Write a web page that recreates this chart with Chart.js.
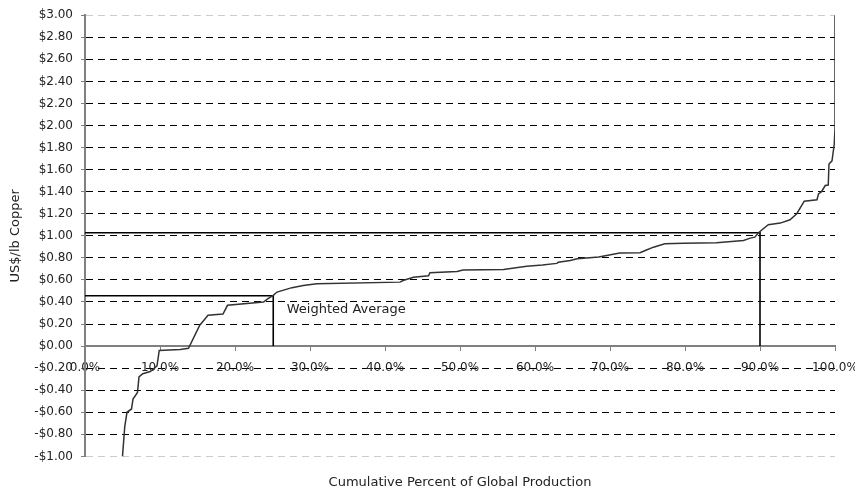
<!DOCTYPE html>
<html>
<head>
<meta charset="utf-8">
<script src="https://cdn.jsdelivr.net/npm/chart.js@4/dist/chart.umd.min.js"></script>
<style>
  html, body { margin: 0; padding: 0; background: #fff; }
  #wrap { width: 855px; height: 493px; }
</style>
</head>
<body>
<div id="wrap"><canvas id="costCurve"></canvas></div>
<script>
// cumulative share of global production (%) and cash cost (US$/lb)
const cumPct = [5.0, 5.3, 5.6, 6.2, 6.4, 7.0, 7.2, 7.7, 8.7, 9.6, 9.9, 12.7, 13.8, 15.3, 15.8, 16.4, 18.4, 19.0,
  23.8, 24.4, 25.1, 25.6, 27.6, 29.1, 30.9, 42.0, 42.4, 43.8, 45.8, 46.0, 49.6, 50.4, 55.8, 58.9, 61.0, 62.9,
  63.1, 64.7, 65.6, 68.5, 71.3, 74.0, 74.7, 75.8, 77.3, 79.8, 84.2, 87.8, 88.7, 89.3, 89.8, 91.1, 92.7, 94.0,
  94.9, 95.9, 97.6, 97.8, 98.2, 98.7, 99.1, 99.2, 99.6, 99.9, 100, 100];
const cashCost = [-1.0, -0.73, -0.60, -0.57, -0.48, -0.42, -0.28, -0.25, -0.23, -0.18, -0.04, -0.03, -0.02, 0.19,
  0.23, 0.28, 0.29, 0.37, 0.40, 0.43, 0.46, 0.49, 0.53, 0.55, 0.565, 0.58, 0.595, 0.625, 0.638, 0.665, 0.677,
  0.69, 0.695, 0.725, 0.735, 0.75, 0.76, 0.777, 0.792, 0.807, 0.845, 0.846, 0.867, 0.897, 0.928, 0.933, 0.937,
  0.958, 0.979, 0.988, 1.028, 1.10, 1.115, 1.145, 1.20, 1.314, 1.327, 1.38, 1.40, 1.456, 1.46, 1.65, 1.68,
  1.83, 1.98, 3.0];

// weighted average marker and 90th percentile marker
const avgPct = 25.1, avgCost = 0.457;
const p90Pct = 90, p90Cost = 1.028;

const yMin = -1, yMax = 3, yStep = 0.2;
const xMin = 0, xMax = 100, xStep = 10;

function money(v) {
  const r = Math.round(v * 100) / 100;
  return (r < 0 ? '-$' : '$') + Math.abs(r).toFixed(2);
}

const curve = cumPct.map((x, i) => ({ x: x, y: cashCost[i] }));
const avgLine = [{ x: xMin, y: avgCost }, { x: avgPct, y: avgCost }, { x: avgPct, y: 0 }];
const p90Line = [{ x: xMin, y: p90Cost }, { x: p90Pct, y: p90Cost }, { x: p90Pct, y: 0 }];

const labelPlugin = {
  id: 'avgLabel',
  afterDatasetsDraw(chart) {
    const c = chart.ctx;
    const xs = chart.scales.x, ys = chart.scales.y;
    c.save();
    c.font = '13px "DejaVu Sans"';
    c.fillStyle = '#222';
    c.textAlign = 'left';
    c.textBaseline = 'middle';
    c.fillText('Weighted Average', xs.getPixelForValue(26.9), ys.getPixelForValue(0.333));
    c.restore();
  }
};

Chart.defaults.font.family = '"DejaVu Sans", sans-serif';
Chart.defaults.font.size = 12;
Chart.defaults.color = '#222';

new Chart(document.getElementById('costCurve'), {
  type: 'line',
  data: {
    datasets: [
      { data: curve, borderColor: '#333', borderWidth: 1.5, pointRadius: 0, tension: 0 },
      { data: avgLine, borderColor: '#000', borderWidth: 1.6, pointRadius: 0, tension: 0 },
      { data: p90Line, borderColor: '#000', borderWidth: 1.6, pointRadius: 0, tension: 0 }
    ]
  },
  options: {
    responsive: true,
    maintainAspectRatio: false,
    animation: false,
    layout: { padding: { top: 15, right: 20, left: 0, bottom: 0 } },
    plugins: {
      legend: { display: false },
      tooltip: { enabled: false }
    },
    scales: {
      x: {
        type: 'linear',
        position: { y: 0 },
        min: xMin, max: xMax,
        afterFit: s => { s.paddingLeft = 0; s.paddingRight = 0; },
        ticks: { stepSize: xStep, padding: 11, callback: v => v.toFixed(1) + '%', maxRotation: 0 },
        grid: { drawOnChartArea: false, drawTicks: true, tickLength: 4, tickColor: '#808080' },
        border: { color: '#808080', width: 2 }
      },
      xTitle: {
        type: 'linear',
        axis: 'x',
        position: 'bottom',
        min: xMin, max: xMax,
        afterFit: s => { s.paddingLeft = 0; s.paddingRight = 0; },
        ticks: { display: false },
        grid: { display: false, drawTicks: false },
        border: { display: false },
        title: {
          display: true,
          text: 'Cumulative Percent of Global Production',
          font: { size: 13 },
          padding: { top: 18, bottom: 3 }
        }
      },
      y: {
        min: yMin, max: yMax,
        afterFit: s => { s.width = 85; },
        ticks: { stepSize: yStep, padding: 8, callback: v => money(v) },
        title: { display: true, text: 'US$/lb Copper', font: { size: 13 }, padding: { top: 8, bottom: 0 } },
        grid: {
          color: ctx => (ctx.index === 0 || ctx.index === 20) ? '#ccc' : '#000',
          lineWidth: 1,
          tickLength: 4,
          tickColor: '#808080',
          tickBorderDash: []
        },
        border: { color: '#808080', width: 2, dash: [7, 5] }
      }
    }
  },
  plugins: [labelPlugin]
});
</script>
</body>
</html>
